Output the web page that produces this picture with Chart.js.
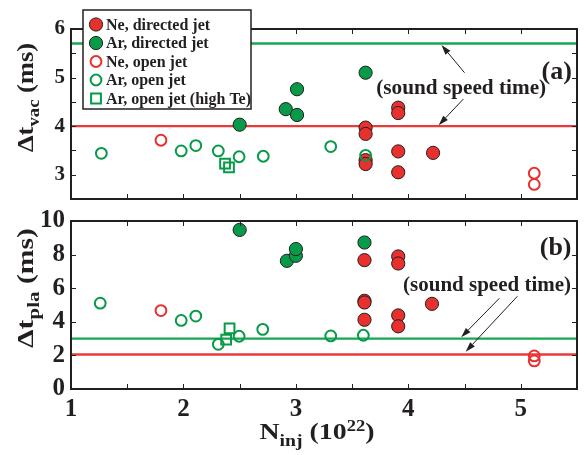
<!DOCTYPE html>
<html><head><meta charset="utf-8">
<script src="https://cdn.jsdelivr.net/npm/chart.js@4.4.0/dist/chart.umd.min.js"></script>
<style>
html,body{margin:0;padding:0;background:#fff;}
#wrap{position:relative;width:587px;height:455px;overflow:hidden;}
canvas{position:absolute;left:0;top:0;}
</style></head><body>
<div id="wrap"><canvas id="cb" width="587" height="455"></canvas><canvas id="ct" width="587" height="455"></canvas></div>
<script>
// ---------- data ----------
const xTickLabels = [1, 2, 3, 4, 5];
const vacTickLabels = [3, 4, 5, 6];
const plaTickLabels = [0, 2, 4, 6, 8, 10];

const seriesNames = ['Ne, directed jet', 'Ar, directed jet', 'Ne, open jet', 'Ar, open jet', 'Ar, open jet (high Te)'];

// panel (a): vacuum time
const vacNeDirX = [3.62, 3.62, 3.62, 3.62, 3.91, 3.91, 3.91, 3.91, 4.22];
const vacNeDirY = [3.97, 3.84, 3.30, 3.22, 4.38, 4.27, 3.48, 3.05, 3.45];
const vacArDirX = [2.50, 2.91, 3.01, 3.01, 3.62];
const vacArDirY = [4.03, 4.35, 4.76, 4.23, 5.10];
const vacNeOpenX = [1.80, 5.12, 5.12];
const vacNeOpenY = [3.71, 3.03, 2.80];
const vacArOpenX = [1.27, 1.98, 2.11, 2.31, 2.495, 2.71, 3.31, 3.62];
const vacArOpenY = [3.44, 3.49, 3.60, 3.49, 3.37, 3.38, 3.58, 3.40];
const vacArHighX = [2.37, 2.405];
const vacArHighY = [3.23, 3.15];
const vacSoundAr = 5.7;
const vacSoundNe = 4.0;

// panel (b): plasma time
const plaNeDirX = [3.61, 3.61, 3.61, 3.61, 3.91, 3.91, 3.91, 3.91, 4.21];
const plaNeDirY = [7.67, 5.25, 5.15, 4.12, 7.89, 7.47, 4.38, 3.73, 5.07];
const plaArDirX = [2.50, 2.92, 3.00, 3.00, 3.61];
const plaArDirY = [9.47, 7.63, 7.93, 8.33, 8.72];
const plaNeOpenX = [1.80, 5.12, 5.12];
const plaNeOpenY = [4.67, 1.97, 1.67];
const plaArOpenX = [1.26, 1.98, 2.11, 2.31, 2.495, 2.705, 3.31, 3.60];
const plaArOpenY = [5.11, 4.08, 4.34, 2.66, 3.14, 3.55, 3.16, 3.20];
const plaArHighX = [2.38, 2.41];
const plaArHighY = [2.94, 3.61];
const plaSoundAr = 3.0;
const plaSoundNe = 2.05;

const xMin = 1, xMax = 5.5;

// ---------- styles ----------
const FONT = '"Liberation Serif","Times New Roman",serif';
const INK = '#231f20';
const RED = '#e8302f';
const GREEN = '#079a48';
const RED_LINE = '#ea3b3b';
const GREEN_LINE = '#17a650';

const zip = (xs, ys) => xs.map((x, i) => ({x, y: ys[i]}));

function pointSets(nd, ad, no, ao, ah) {
  // first dataset is drawn on top in Chart.js
  return [
    {data: ah, pointStyle: 'rect', pointRadius: 6.9, backgroundColor: 'rgba(0,0,0,0)', borderColor: GREEN, borderWidth: 2},
    {data: ao, pointStyle: 'circle', pointRadius: 5.4, backgroundColor: 'rgba(0,0,0,0)', borderColor: GREEN, borderWidth: 2},
    {data: no, pointStyle: 'circle', pointRadius: 5.4, backgroundColor: 'rgba(0,0,0,0)', borderColor: RED, borderWidth: 2},
    {data: ad, pointStyle: 'circle', pointRadius: 6.6, backgroundColor: GREEN, borderColor: INK, borderWidth: 1},
    {data: nd, pointStyle: 'circle', pointRadius: 6.6, backgroundColor: RED, borderColor: INK, borderWidth: 1},
  ].map((d, i) => Object.assign(d, {label: seriesNames[4 - i], showLine: false, pointHoverRadius: d.pointRadius}));
}
function hLine(v, color) {
  return {type: 'line', data: [{x: xMin, y: v}, {x: xMax, y: v}], borderColor: color, borderWidth: 2.4,
          pointRadius: 0, fill: false, order: 10};
}

// rich text centred at (x,y) along direction rot; optional target length stretches along the text
function drawRich(ctx, parts, x, y, rot, target) {
  ctx.save();
  ctx.translate(x, y);
  ctx.rotate(rot);
  ctx.fillStyle = INK;
  ctx.textBaseline = 'alphabetic';
  ctx.textAlign = 'left';
  let total = 0;
  parts.forEach(p => { ctx.font = `bold ${p.size}px ${FONT}`; p.w = ctx.measureText(p.t).width; total += p.w; });
  if (target) ctx.scale(target / total, 1);
  let cx = -total / 2;
  parts.forEach(p => { ctx.font = `bold ${p.size}px ${FONT}`; ctx.fillText(p.t, cx, p.dy || 0); cx += p.w; });
  ctx.restore();
}

function arrow(ctx, x0, y0, x1, y1) {
  ctx.save();
  ctx.strokeStyle = INK; ctx.fillStyle = INK; ctx.lineWidth = 1;
  const ang = Math.atan2(y1 - y0, x1 - x0);
  const L = 10, W = 3.2;
  const bx = x1 - L * Math.cos(ang), by = y1 - L * Math.sin(ang);
  ctx.beginPath(); ctx.moveTo(x0, y0); ctx.lineTo(bx, by); ctx.stroke();
  ctx.beginPath();
  ctx.moveTo(x1, y1);
  ctx.lineTo(bx - W * Math.sin(ang), by + W * Math.cos(ang));
  ctx.lineTo(bx + W * Math.sin(ang), by - W * Math.cos(ang));
  ctx.closePath(); ctx.fill();
  ctx.restore();
}

function framePlugin(cfg) {
  return {
    id: 'frame_' + cfg.name,
    afterDraw(chart) {
      const {ctx, chartArea: a, scales: {x, y}} = chart;
      ctx.save();
      ctx.strokeStyle = INK;
      ctx.lineWidth = 1;
      const T = 5;
      for (let v = xMin + 0.5; v < xMax - 1e-9; v += 0.5) {
        const px = Math.round(x.getPixelForValue(v)) + 0.5;
        ctx.beginPath();
        ctx.moveTo(px, a.bottom); ctx.lineTo(px, a.bottom - T);
        ctx.moveTo(px, a.top); ctx.lineTo(px, a.top + T);
        ctx.stroke();
      }
      for (let v = y.min + cfg.yStep; v < y.max - 1e-9; v += cfg.yStep) {
        const py = Math.round(y.getPixelForValue(v)) + 0.5;
        ctx.beginPath();
        ctx.moveTo(a.left, py); ctx.lineTo(a.left + T, py);
        ctx.moveTo(a.right, py); ctx.lineTo(a.right - T, py);
        ctx.stroke();
      }
      ctx.lineWidth = 2;
      ctx.strokeRect(a.left, a.top, a.right - a.left, a.bottom - a.top);
      ctx.restore();
      cfg.extra(chart, ctx, x, y, a);
    }
  };
}

function legendDraw(ctx) {
  const bx = 83, by = 10, bw = 168, bh = 99;
  ctx.save();
  ctx.fillStyle = '#fff';
  ctx.fillRect(bx, by, bw, bh);
  ctx.strokeStyle = INK; ctx.lineWidth = 1.5;
  ctx.strokeRect(bx, by, bw, bh);
  const rows = [
    {fill: RED, stroke: INK, lw: 1, r: 6.6, shape: 'c'},
    {fill: GREEN, stroke: INK, lw: 1, r: 6.6, shape: 'c'},
    {fill: null, stroke: RED, lw: 2, r: 5.4, shape: 'c'},
    {fill: null, stroke: GREEN, lw: 2, r: 5.4, shape: 'c'},
    {fill: null, stroke: GREEN, lw: 2, r: 4.9, shape: 's'},
  ];
  const y0 = 24.5, dy = 18.5;
  rows.forEach((r, i) => {
    const cy = y0 + i * dy, cx = 96;
    ctx.beginPath();
    if (r.shape === 'c') ctx.arc(cx, cy, r.r, 0, Math.PI * 2);
    else ctx.rect(cx - r.r, cy - r.r, 2 * r.r, 2 * r.r);
    if (r.fill) { ctx.fillStyle = r.fill; ctx.fill(); }
    ctx.strokeStyle = r.stroke; ctx.lineWidth = r.lw; ctx.stroke();
    ctx.fillStyle = INK;
    ctx.font = `bold 16px ${FONT}`;
    ctx.textBaseline = 'middle'; ctx.textAlign = 'left';
    ctx.fillText(seriesNames[i], 106, cy + 1);
  });
  ctx.restore();
}

function baseOptions(o) {
  return {
    responsive: false, animation: false, events: [],
    layout: {padding: o.padding},
    plugins: {legend: {display: false}, tooltip: {enabled: false}},
    scales: {
      x: o.x,
      y: {
        type: 'linear', min: o.yMin, max: o.yMax,
        afterFit(s) { s.width = 71; },
        grid: {display: false, drawTicks: false}, border: {display: false},
        ticks: {stepSize: o.yStep, padding: 6, color: INK, autoSkip: false,
                font: {family: FONT, size: o.yFont, weight: 'bold'},
                callback: v => o.yLabels.includes(v) ? String(v) : ''}
      }
    }
  };
}

// ---------- top chart (a) ----------
new Chart(document.getElementById('ct'), {
  type: 'scatter',
  data: {datasets: [
    ...pointSets(zip(vacNeDirX, vacNeDirY), zip(vacArDirX, vacArDirY), zip(vacNeOpenX, vacNeOpenY),
                 zip(vacArOpenX, vacArOpenY), zip(vacArHighX, vacArHighY)),
    hLine(vacSoundAr, GREEN_LINE), hLine(vacSoundNe, RED_LINE)
  ]},
  options: baseOptions({
    padding: {top: 29, bottom: 256, left: 0, right: 10},
    yMin: 2.5, yMax: 6, yStep: 0.5, yFont: 21, yLabels: vacTickLabels,
    x: {type: 'linear', min: xMin, max: xMax, display: false}
  }),
  plugins: [framePlugin({name: 'a', yStep: 0.5, extra(chart, ctx, x, y, a) {
    drawRich(ctx, [{t: '(sound speed time)', size: 21}], x.getPixelForValue(4.47), y.getPixelForValue(4.66), 0, 170);
    drawRich(ctx, [{t: '(a)', size: 26}], x.getPixelForValue(5.32), y.getPixelForValue(4.98), 0);
    arrow(ctx, x.getPixelForValue(4.50), y.getPixelForValue(5.10), x.getPixelForValue(4.295), y.getPixelForValue(5.67));
    arrow(ctx, x.getPixelForValue(4.49), y.getPixelForValue(4.56), x.getPixelForValue(4.27), y.getPixelForValue(4.02));
    drawRich(ctx, [
      {t: '\u0394t', size: 24}, {t: 'vac', size: 17, dy: 6}, {t: ' (ms)', size: 24}
    ], 33, 97.5, -Math.PI / 2, 109);
    legendDraw(ctx);
  }})]
});

// ---------- bottom chart (b) ----------
new Chart(document.getElementById('cb'), {
  type: 'scatter',
  data: {datasets: [
    ...pointSets(zip(plaNeDirX, plaNeDirY), zip(plaArDirX, plaArDirY), zip(plaNeOpenX, plaNeOpenY),
                 zip(plaArOpenX, plaArOpenY), zip(plaArHighX, plaArHighY)),
    hLine(plaSoundAr, GREEN_LINE), hLine(plaSoundNe, RED_LINE)
  ]},
  options: baseOptions({
    padding: {top: 221, bottom: 0, left: 0, right: 10},
    yMin: 0, yMax: 10, yStep: 2, yFont: 25, yLabels: plaTickLabels,
    x: {
      type: 'linear', min: xMin, max: xMax,
      afterFit(s) { s.height = 66; },
      grid: {display: false, drawTicks: false}, border: {display: false},
      ticks: {stepSize: 0.5, padding: 6, color: INK, autoSkip: false, maxRotation: 0,
              font: {family: FONT, size: 25, weight: 'bold'},
              callback: v => xTickLabels.includes(v) ? String(v) : ''}
    }
  }),
  plugins: [framePlugin({name: 'b', yStep: 2, extra(chart, ctx, x, y, a) {
    drawRich(ctx, [{t: '(sound speed time)', size: 21}], x.getPixelForValue(4.70), y.getPixelForValue(5.85), 0, 168);
    drawRich(ctx, [{t: '(b)', size: 26}], x.getPixelForValue(5.31), y.getPixelForValue(8.0), 0);
    arrow(ctx, x.getPixelForValue(4.81), y.getPixelForValue(5.40), x.getPixelForValue(4.47), y.getPixelForValue(3.08));
    arrow(ctx, x.getPixelForValue(4.97), y.getPixelForValue(5.52), x.getPixelForValue(4.51), y.getPixelForValue(2.22));
    drawRich(ctx, [
      {t: '\u0394t', size: 24}, {t: 'pla', size: 17, dy: 6}, {t: ' (ms)', size: 24}
    ], 33, 288, -Math.PI / 2, 120);
    drawRich(ctx, [
      {t: 'N', size: 24}, {t: 'inj', size: 17, dy: 7}, {t: ' (10', size: 24}, {t: '22', size: 16, dy: -8}, {t: ')', size: 24}
    ], 317, 439, 0, 115);
  }})]
});
</script>
</body></html>
